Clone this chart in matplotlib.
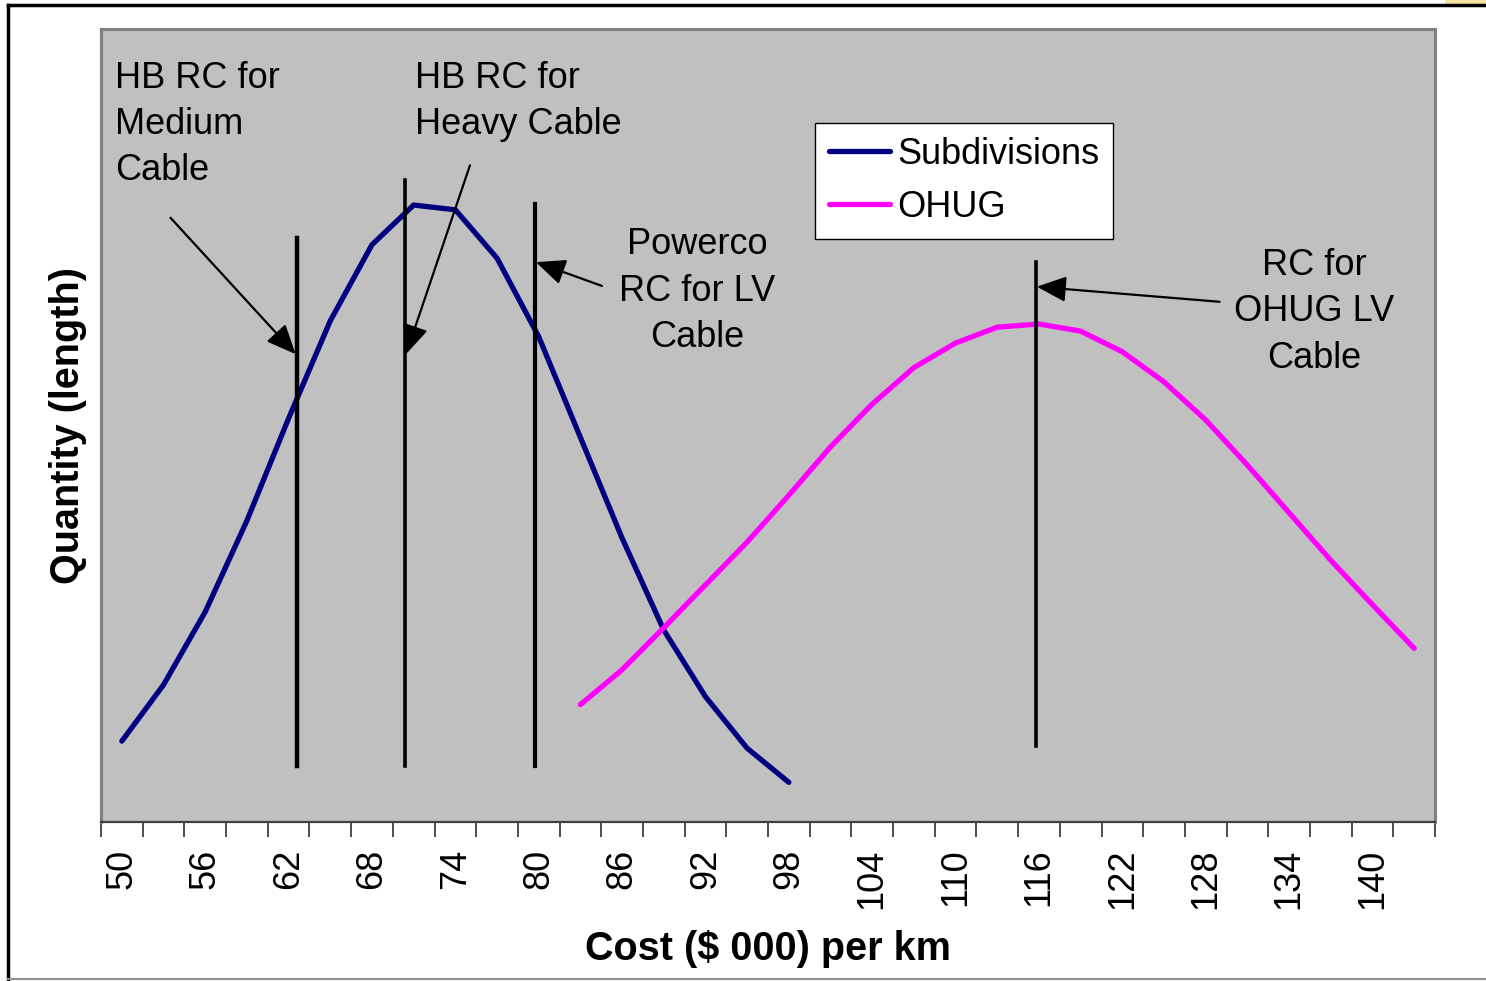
import numpy as np
import matplotlib
matplotlib.use("Agg")
import matplotlib.pyplot as plt
from matplotlib.patches import Rectangle
from matplotlib.lines import Line2D

plt.rcParams['font.family'] = ['Liberation Sans', 'DejaVu Sans']

# categories: cost ($000) per km, step 3
cost = np.arange(50, 144, 3)  # 50 .. 143
tick_labels = [str(c) for c in range(50, 141, 6)]

sub_cost = cost[:17]  # 50 .. 98
sub_qty = [10.2, 17.3, 26.5, 38.0, 50.9, 63.2, 72.8, 77.8, 77.2, 71.1,
           61.2, 48.5, 35.8, 24.2, 15.8, 9.3, 5.0]

ohug_cost = cost[11:]  # 83 .. 143
ohug_qty = [14.8, 19.2, 24.5, 29.9, 35.3, 41.2, 47.3, 52.7, 57.3, 60.4,
            62.4, 62.8, 61.9, 59.3, 55.5, 50.7, 45.0, 39.0, 33.0, 27.4, 21.9]

# reference cost markers: (x, y bottom, y top)
rc_x = [62.6, 70.4, 79.7, 115.8]
rc_ybot = [7.1, 7.1, 7.1, 9.6]
rc_ytop = [73.6, 81.0, 77.9, 70.6]
rc_lw = [3.2, 2.6, 3.0, 2.6]

notes = ["HB RC for\nMedium\nCable", "HB RC for\nHeavy Cable",
         "Powerco\nRC for LV\nCable", "RC for\nOHUG LV\nCable"]
note_xy = [(49.5, 96.0), (71.1, 96.0), (91.4, 75.0), (135.8, 72.4)]
note_ha = ['left', 'left', 'center', 'center']
arrow_tail = [(53.5, 76.2), (75.05, 82.8), (84.55, 67.6), (129.0, 65.6)]
arrow_head = [(62.5, 59.0), (70.45, 59.0), (79.8, 70.6), (115.85, 67.5)]

fig = plt.figure(figsize=(14.86, 9.81), dpi=100)
ax = fig.add_axes([101 / 1486, 1 - 822 / 981, 1334 / 1486, 793 / 981])
ax.set_facecolor('#c0c0c0')

ax.plot(sub_cost, sub_qty, color='#000080', lw=3.8, solid_capstyle='round',
        label='Subdivisions', zorder=3)
ax.plot(ohug_cost, ohug_qty, color='#ff00ff', lw=3.8, solid_capstyle='round',
        label='OHUG', zorder=3)

for x, y0, y1, lw in zip(rc_x, rc_ybot, rc_ytop, rc_lw):
    ax.plot([x, x], [y0, y1], color='black', lw=lw, zorder=4)

for txt, xy, ha in zip(notes, note_xy, note_ha):
    ax.text(xy[0], xy[1], txt, ha=ha, va='top', multialignment=ha,
            fontsize=26, linespacing=1.42, zorder=5)

for tail, head in zip(arrow_tail, arrow_head):
    ax.annotate('', xy=head, xytext=tail,
                arrowprops=dict(arrowstyle='-|>,head_length=0.5,head_width=0.22',
                                mutation_scale=36, color='black', lw=1.6,
                                shrinkA=0, shrinkB=0), zorder=5)

ax.set_xlim(48.5, 144.5)
ax.set_ylim(0, 100)

# category boundaries as tick marks, labels at every other category
ax.set_xticks(np.arange(48.5, 145, 3))
ax.set_xticklabels([])
ax.set_xticks(np.arange(50, 141, 6), minor=True)
ax.set_xticklabels(tick_labels, minor=True, rotation=90, fontsize=26)
ax.tick_params(axis='x', which='major', length=11, width=1.3, color='#404040', direction='out')
ax.tick_params(axis='x', which='minor', length=0, pad=19)
ax.set_yticks([])

for s in ['top', 'left', 'right']:
    ax.spines[s].set_color('#808080')
    ax.spines[s].set_linewidth(2.2)
ax.spines['bottom'].set_color('#404040')
ax.spines['bottom'].set_linewidth(1.6)

ax.set_xlabel('Cost ($ 000) per km', fontsize=28.5, fontweight='bold', labelpad=15)
ax.set_ylabel('Quantity (length)', fontsize=28.5, fontweight='bold', labelpad=10)

leg = ax.legend(loc='upper left', bbox_to_anchor=((815 - 101) / 1334, (822 - 123) / 793),
                fontsize=26, frameon=True, fancybox=False, framealpha=1,
                edgecolor='black', handlelength=1.7, handletextpad=0.2,
                borderpad=0.38, labelspacing=0.5, borderaxespad=0)
leg.get_frame().set_linewidth(1.0)

# outer chart frame
fig.add_artist(Line2D([8 / 1486, 8 / 1486], [1 - 5 / 981, 1 - 979 / 981],
                      color='black', lw=2.5, transform=fig.transFigure))
fig.add_artist(Line2D([8 / 1486, 1], [1 - 5 / 981, 1 - 5 / 981],
                      color='black', lw=2.5, transform=fig.transFigure))
fig.add_artist(Line2D([8 / 1486, 1], [1 - 979 / 981, 1 - 979 / 981],
                      color='#909090', lw=1.5, transform=fig.transFigure))
fig.add_artist(Rectangle((1445 / 1486, 1 - 5 / 981), 41 / 1486, 5 / 981,
                         color='#f3e2a0', transform=fig.transFigure, lw=0))

fig.savefig('out.png', dpi=100)
